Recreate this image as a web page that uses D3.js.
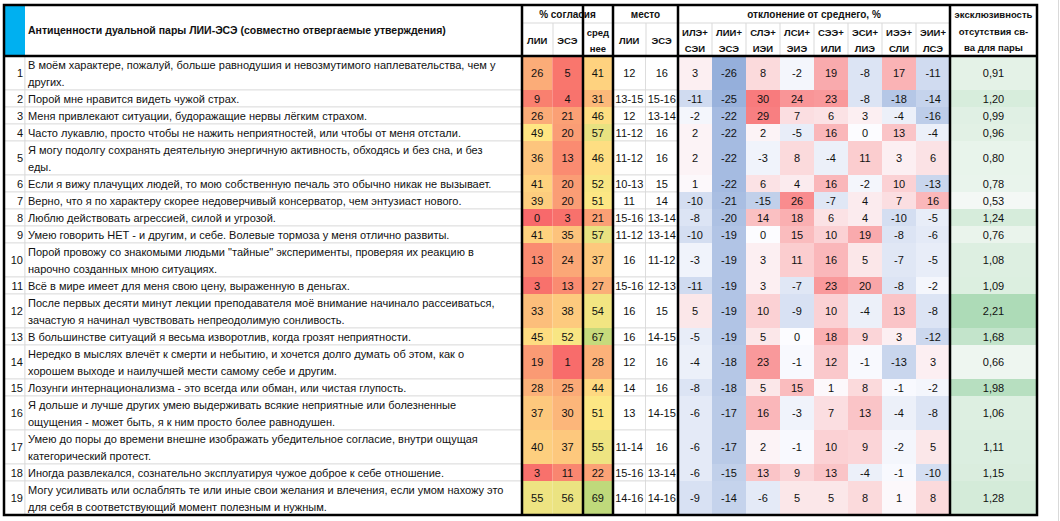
<!DOCTYPE html>
<html><head><meta charset="utf-8">
<script src="https://cdn.jsdelivr.net/npm/d3@7"></script>
<style>body{margin:0;background:#fff}text{font-family:"Liberation Sans",Arial,sans-serif;font-size:11px;fill:#111}</style>
</head><body><svg id="c" width="1060" height="521"></svg>
<script>
const title = "Антиценности дуальной пары ЛИИ-ЭСЭ (совместно отвергаемые утверждения)";
const statements = [
 ["В моём характере, пожалуй, больше равнодушия и невозмутимого наплевательства, чем у","других."],
 ["Порой мне нравится видеть чужой страх."],
 ["Меня привлекают ситуации, будоражащие нервы лёгким страхом."],
 ["Часто лукавлю, просто чтобы не нажить неприятностей, или чтобы от меня отстали."],
 ["Я могу подолгу сохранять деятельную энергичную активность, обходясь и без сна, и без","еды."],
 ["Если я вижу плачущих людей, то мою собственную печаль это обычно никак не вызывает."],
 ["Верно, что я по характеру скорее недоверчивый консерватор, чем энтузиаст нового."],
 ["Люблю действовать агрессией, силой и угрозой."],
 ["Умею говорить НЕТ - и другим, и себе. Волевые тормоза у меня отлично развиты."],
 ["Порой провожу со знакомыми людьми \"тайные\" эксперименты, проверяя их реакцию в","нарочно созданных мною ситуациях."],
 ["Всё в мире имеет для меня свою цену, выраженную в деньгах."],
 ["После первых десяти минут лекции преподавателя моё внимание начинало рассеиваться,","зачастую я начинал чувствовать непреодолимую сонливость."],
 ["В большинстве ситуаций я весьма изворотлив, когда грозят неприятности."],
 ["Нередко в мыслях влечёт к смерти и небытию, и хочется долго думать об этом, как о","хорошем выходе и наилучшей мести самому себе и другим."],
 ["Лозунги интернационализма - это всегда или обман, или чистая глупость."],
 ["Я дольше и лучше других умею выдерживать всякие неприятные или болезненные","ощущения - может быть, я к ним просто более равнодушен."],
 ["Умею до поры до времени внешне изображать убедительное согласие, внутри ощущая","категорический протест."],
 ["Иногда развлекался, сознательно эксплуатируя чужое доброе к себе отношение."],
 ["Могу усиливать или ослаблять те или иные свои желания и влечения, если умом нахожу это","для себя в соответствующий момент полезным и нужным."]
];
const agreeLII = [26,9,26,49,36,41,39,0,41,13,3,33,45,19,28,37,40,3,55];
const agreeESE = [5,4,21,20,13,20,20,3,35,24,13,38,52,1,25,30,37,11,56];
const agreeAvg = [41,31,46,57,46,52,51,21,57,37,27,54,67,28,44,51,55,22,69];
const placeLII = ["12","13-15","12","11-12","11-12","10-13","11","15-16","11-12","16","15-16","16","16","12","14","13","11-14","15-16","14-16"];
const placeESE = ["16","15-16","13-14","16","16","15","14","13-14","13-14","11-12","12-13","15","14-15","16","16","14-15","16","13-14","14-16"];
const pairHeaders = [["ИЛЭ+","СЭИ"],["ЛИИ+","ЭСЭ"],["СЛЭ+","ИЭИ"],["ЛСИ+","ЭИЭ"],["СЭЭ+","ИЛИ"],["ЭСИ+","ЛИЭ"],["ИЭЭ+","СЛИ"],["ЭИИ+","ЛСЭ"]];
const deviation = [
 [3,-26,8,-2,19,-8,17,-11],[-11,-25,30,24,23,-8,-18,-14],[-2,-22,29,7,6,3,-4,-16],[2,-22,2,-5,16,0,13,-4],
 [2,-22,-3,8,-4,11,3,6],[1,-22,6,4,16,-2,10,-13],[-10,-21,-15,26,-7,4,7,16],[-8,-20,14,18,6,4,-10,-5],
 [-10,-19,0,15,10,19,-8,-6],[-3,-19,3,11,16,5,-7,-5],[-11,-19,3,-7,23,20,-8,-2],[5,-19,10,-9,10,-4,13,-8],
 [-5,-19,5,0,18,9,3,-12],[-4,-18,23,-1,12,-1,-13,3],[-8,-18,5,15,1,8,-1,-2],[-6,-17,16,-3,7,13,-4,-8],
 [-6,-17,2,-1,10,9,-2,5],[-6,-15,13,9,13,-4,-1,-10],[-9,-14,-6,5,5,8,1,8]
];
const exclusivity = [0.91,1.20,0.99,0.96,0.80,0.78,0.53,1.24,0.76,1.08,1.09,2.21,1.68,0.66,1.98,1.06,1.11,1.15,1.28];

const svg = d3.select("#c");
const headerTop = 5, headerBottom = 56, lineH = 17;
const rowY = []; let y = headerBottom;
statements.forEach(s => { rowY.push([y, s.length*lineH]); y += s.length*lineH; });
const bottom = y;
const agreeX = d3.scaleBand().domain([0,1,2]).range([522,613]);
const placeX = d3.scaleBand().domain([0,1]).range([613,678]);
const devX = d3.scaleBand().domain(d3.range(8)).range([678,950]);
const exX = [950,1037];

const agreeColor = d3.scaleLinear().domain([0,25,50,70]).range(["#F8696B","#FBAA77","#FFE884","#BCD87B"]);
const devColor = d3.scaleLinear().domain([-26,0,30]).range(["#95AFDB","#FCFCFF","#F87B7D"]);
const exColor = d3.scaleLinear().domain([0.5,2.3]).range(["#F5F9F6","#A9D9B4"]);

svg.append("line").attr("x1",1058.5).attr("x2",1058.5).attr("y1",0).attr("y2",521).attr("stroke","#D9D9D9");
const gc = svg.append("g");
function cell(x0,x1,y0,h,fill){
  gc.append("rect").attr("x",x0).attr("y",y0).attr("width",x1-x0).attr("height",h).attr("fill",fill).attr("stroke","#D9D9D9").attr("stroke-width",0.8);
}
const txt = (x,y,t,a)=>svg.append("text").attr("x",x).attr("y",y).attr("text-anchor",a||"middle").text(t);
statements.forEach((s,i)=>{
  const [y0,h]=rowY[i], cy=y0+h/2;
  cell(4,25,y0,h,"#fff");
  txt(23,cy+4,i+1,"end");
  cell(25,522,y0,h,"#fff");
  s.forEach((l,j)=>txt(28,y0+13+j*lineH,l,"start"));
  [agreeLII[i],agreeESE[i],agreeAvg[i]].forEach((v,k)=>{
    const x0=agreeX(k); gc.append("rect").attr("x",x0).attr("y",y0).attr("width",agreeX.bandwidth()).attr("height",h).attr("fill",agreeColor(v));
    txt(x0+agreeX.bandwidth()/2,cy+4,v);
  });
  [placeLII[i],placeESE[i]].forEach((v,k)=>{
    const x0=placeX(k); cell(x0,x0+placeX.bandwidth(),y0,h,"#fff");
    txt(x0+placeX.bandwidth()/2,cy+4,v);
  });
  deviation[i].forEach((v,k)=>{
    const x0=devX(k); gc.append("rect").attr("x",x0).attr("y",y0).attr("width",devX.bandwidth()).attr("height",h).attr("fill",devColor(v));
    txt(x0+devX.bandwidth()/2,cy+4,v);
  });
  gc.append("rect").attr("x",exX[0]).attr("y",y0).attr("width",exX[1]-exX[0]).attr("height",h).attr("fill",exColor(exclusivity[i]));
  txt((exX[0]+exX[1])/2,cy+4,exclusivity[i].toFixed(2).replace(".",","));
});
// header
svg.append("rect").attr("x",4).attr("y",headerTop).attr("width",21).attr("height",headerBottom-headerTop).attr("fill","#00B0F0");
const bold = (x,y,t,fs)=>svg.append("text").attr("x",x).attr("y",y).attr("text-anchor","middle").style("font-weight","bold").style("font-size",(fs||10)+"px").text(t);
svg.append("text").attr("x",28).attr("y",34).style("font-weight","bold").style("font-size","10.5px").text(title);
bold(567.5,18,"% согласия"); bold(645.5,18,"место"); bold(814,18,"отклонение от среднего, %");
bold(993.5,18,"эксклюзивность",9.5); bold(993.5,35,"отсутствия св-",9.5); bold(993.5,51,"ва для пары",9.5);
["ЛИИ","ЭСЭ"].forEach((t,k)=>bold(agreeX(k)+agreeX.bandwidth()/2,44,t,9.5));
bold(agreeX(2)+agreeX.bandwidth()/2,36,"сред",9.5); bold(agreeX(2)+agreeX.bandwidth()/2,52,"нее",9.5);
["ЛИИ","ЭСЭ"].forEach((t,k)=>bold(placeX(k)+placeX.bandwidth()/2,44,t,9.5));
pairHeaders.forEach((p,k)=>{bold(devX(k)+devX.bandwidth()/2,36,p[0],9.5);bold(devX(k)+devX.bandwidth()/2,52,p[1],9.5);});
const hg=svg.append("g").attr("stroke","#D9D9D9");
hg.append("line").attr("x1",522).attr("x2",950).attr("y1",23).attr("y2",23);
[553,583,646].forEach(x=>hg.append("line").attr("x1",x).attr("x2",x).attr("y1",23).attr("y2",headerBottom));
devX.domain().slice(1).forEach(k=>hg.append("line").attr("x1",devX(k)).attr("x2",devX(k)).attr("y1",23).attr("y2",headerBottom));
const tb=svg.append("g").attr("stroke","#000").attr("stroke-width",2.5).attr("fill","none");
tb.append("rect").attr("x",4).attr("y",headerTop).attr("width",1033).attr("height",bottom-headerTop);
tb.append("line").attr("x1",4).attr("x2",1037).attr("y1",headerBottom).attr("y2",headerBottom);
[522,583,613,678,950].forEach(x=>tb.append("line").attr("x1",x).attr("x2",x).attr("y1",headerTop).attr("y2",bottom));
</script></body></html>
